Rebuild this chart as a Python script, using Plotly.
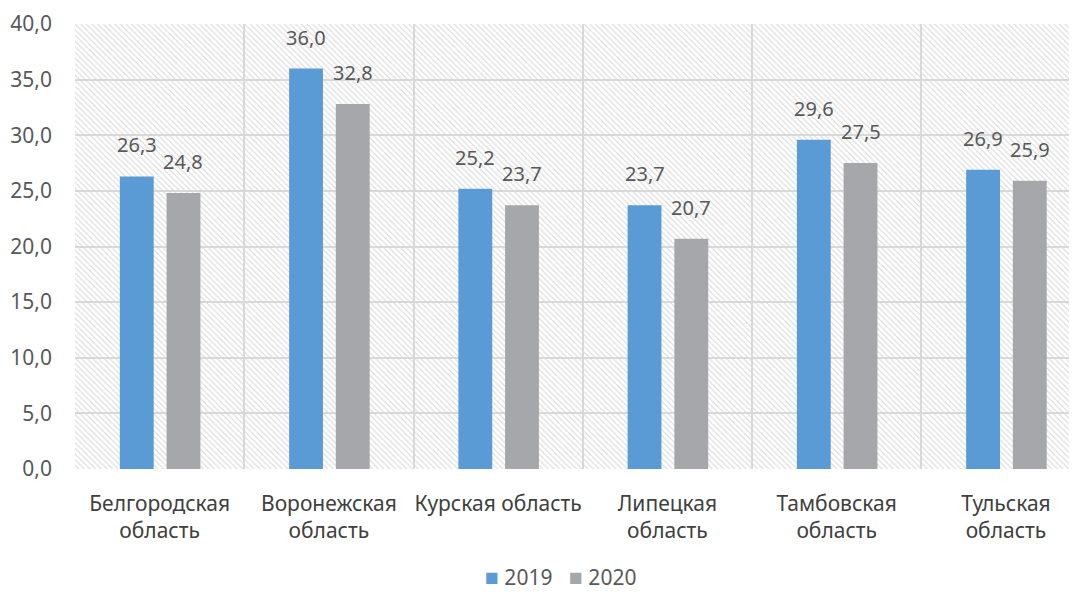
import plotly.graph_objects as go

# Данные
regiones = ["Белгородская<br>область", "Воронежская<br>область", "Курская область",
            "Липецкая<br>область", "Тамбовская<br>область", "Тульская<br>область"]
valores_2019 = [26.3, 36.0, 25.2, 23.7, 29.6, 26.9]
valores_2020 = [24.8, 32.8, 23.7, 20.7, 27.5, 25.9]
series = ["2019", "2020"]
eje_max = 40

color_2019 = "#5B9BD5"
color_2020 = "#A5A7AA"
fuente = "Noto Sans, sans-serif"

ancho = 0.2
desp_2019 = -0.235
desp_2020 = 0.041

fig = go.Figure()

# Fondo rayado del área del gráfico
fig.add_trace(go.Bar(
    x=regiones, y=[eje_max] * len(regiones), width=1, offset=-0.5,
    marker=dict(color="rgba(0,0,0,0)", line_width=0,
                pattern=dict(shape="\\", fgcolor="#d6d6d6", bgcolor="rgba(0,0,0,0)",
                             size=4, solidity=0.25, fillmode="replace")),
    showlegend=False, hoverinfo="skip"
))

fig.add_trace(go.Bar(
    x=regiones, y=valores_2019, name=series[0], width=ancho, offset=desp_2019,
    marker=dict(color=color_2019, line_width=0), showlegend=False
))

fig.add_trace(go.Bar(
    x=regiones, y=valores_2020, name=series[1], width=ancho, offset=desp_2020,
    marker=dict(color=color_2020, line_width=0), showlegend=False
))

# Etiquetas de datos sobre las barras
for serie, desp in ((valores_2019, desp_2019), (valores_2020, desp_2020)):
    for i, v in enumerate(serie):
        fig.add_annotation(
            x=i + desp + ancho / 2, y=v, text=f"{v:.1f}".replace(".", ","),
            showarrow=False, yanchor="bottom", yshift=16,
            font=dict(size=20, color="#595959")
        )

# Leyenda compacta (cuadro de color + año), como en el original
for nombre, color, xpos in ((series[0], color_2019, 0.407), (series[1], color_2020, 0.491)):
    fig.add_annotation(
        xref="paper", yref="paper", x=xpos, y=-0.24, xanchor="left", yanchor="middle",
        text=f"<span style='font-size:23px;color:{color}'>■</span> {nombre}",
        showarrow=False, font=dict(size=21, color="#595959")
    )

# La página tiene un margen de 8 px, por eso la figura es algo más pequeña
fig.update_layout(
    width=1069, height=584,
    barmode="overlay",
    separators=", ",
    paper_bgcolor="white", plot_bgcolor="white",
    font=dict(family=fuente, size=20, color="#595959"),
    margin=dict(l=67, r=0, t=16, b=123, autoexpand=False),
    showlegend=False,
)

fig.update_xaxes(
    range=[-0.5, 5.42], tickson="boundaries", showgrid=True, automargin=False,
    gridcolor="#d9d9d9", gridwidth=2, ticks="", ticklabelstandoff=20, tickangle=0,
    tickfont=dict(size=21, color="#404040"), showline=False, zeroline=False
)
fig.update_yaxes(
    range=[0, eje_max], dtick=5, tickformat=".1f", showgrid=True, automargin=False,
    gridcolor="#d9d9d9", gridwidth=2, ticks="", ticklabelstandoff=22,
    tickfont=dict(size=21, color="#595959"), zeroline=False, showline=False
)

fig.write_html("out.html")
